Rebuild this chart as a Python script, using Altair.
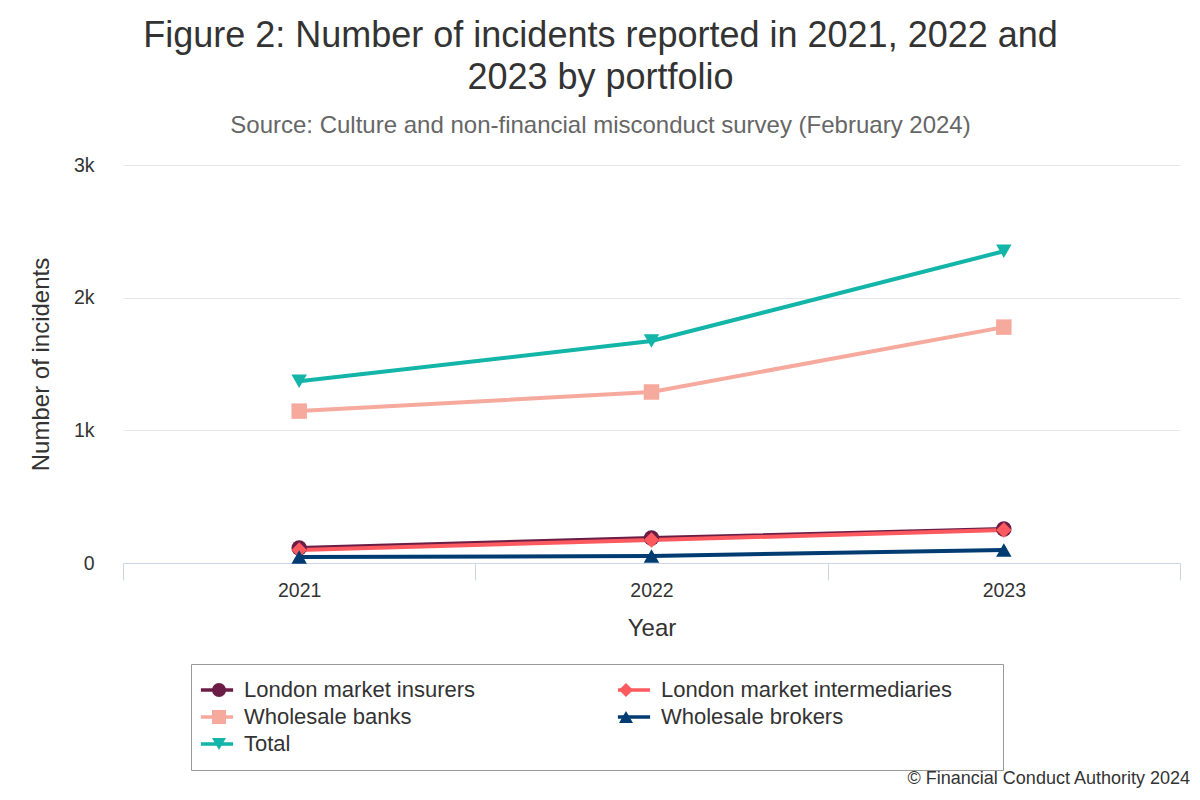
import pandas as pd
import altair as alt

# data
years = [2021, 2022, 2023]
series_names = [
    "London market insurers",
    "London market intermediaries",
    "Wholesale banks",
    "Wholesale brokers",
    "Total",
]
london_insurers = [113, 188, 256]
london_intermediaries = [98, 173, 249]
wholesale_banks = [1145, 1289, 1778]
wholesale_brokers = [45, 53, 98]
total = [1370, 1673, 2350]

colours = ["#6b1d46", "#fc5a5f", "#f6a99d", "#003c71", "#12b5a7"]
shapes = ["circle", "diamond", "square", "triangle-up", "triangle-down"]

x_tick_values = [2020.5, 2021, 2021.5, 2022, 2022.5, 2023, 2023.5]
y_tick_values = [0, 1000, 2000, 3000]

title_lines = ["Figure 2: Number of incidents reported in 2021, 2022 and", "2023 by portfolio"]
subtitle = "Source: Culture and non-financial misconduct survey (February 2024)"
credit_text = "© Financial Conduct Authority 2024"

FONT = "Liberation Sans"

rows = []
for name, values in zip(series_names, [london_insurers, london_intermediaries, wholesale_banks, wholesale_brokers, total]):
    for yr, v in zip(years, values):
        rows.append({"year": yr, "count": v, "series": name, "series_pt": name})
df = pd.DataFrame(rows)

x = alt.X(
    "year:Q",
    title="Year",
    scale=alt.Scale(domain=[2020.5, 2023.5], nice=False, zero=False),
    axis=alt.Axis(
        values=x_tick_values,
        labelExpr="floor(datum.value) == datum.value ? format(datum.value, 'd') : ''",
        labelOverlap=False,
        labelFlush=False,
        grid=False,
        domainColor="#ccd6eb",
        tickColor="#ccd6eb",
        tickSize=17,
        tickOpacity=alt.condition("floor(datum.value) != datum.value", alt.value(1), alt.value(0)),
        labelPadding=1,
        labelFontSize=19.5,
        labelColor="#333333",
        titleFontSize=24,
        titleFontWeight="normal",
        titleColor="#333333",
        titlePadding=17,
    ),
)
y = alt.Y(
    "count:Q",
    title="Number of incidents",
    scale=alt.Scale(domain=[0, 3000], nice=False),
    axis=alt.Axis(
        values=y_tick_values,
        labelExpr="datum.value == 0 ? '0' : format(datum.value / 1000, 'd') + 'k'",
        domain=False,
        ticks=False,
        gridColor="#e6e6e6",
        labelPadding=29,
        labelFontSize=19.5,
        labelColor="#333333",
        titleFontSize=24,
        titleFontWeight="normal",
        titleColor="#333333",
        titlePadding=20,
    ),
)

# line legend (draws the box, the strokes and the labels);
# a blank title on the right widens the box like the original
lines = alt.Chart(df).mark_line(strokeWidth=4).encode(
    x=x,
    y=y,
    color=alt.Color(
        "series:N",
        sort=series_names,
        scale=alt.Scale(range=colours),
        legend=alt.Legend(
            title="\u00a0",
            titleOrient="right",
            titlePadding=36,
            orient="none",
            direction="horizontal",
            legendX=68,
            legendY=499,
            columns=2,
            columnPadding=134,
            rowPadding=5,
            padding=15,
            strokeColor="#999999",
            symbolType="M-2.3,0H2.3",
            symbolSize=196,
            symbolStrokeWidth=3.5,
            labelFontSize=22,
            labelColor="#333333",
            labelOffset=16,
            labelLimit=500,
        ),
    ),
)

# marker legend laid over the line legend, without labels of its own
pt_legend = alt.Legend(
    title=None,
    orient="none",
    direction="horizontal",
    legendX=70,
    legendY=499,
    columns=2,
    columnPadding=385,
    rowPadding=5,
    padding=15,
    symbolSize=196,
    symbolStrokeWidth=0,
    symbolOpacity=1,
    labelFontSize=22,
    labelExpr="''",
    labelOffset=0,
)

points = alt.Chart(df).mark_point(filled=True, size=240, opacity=1, strokeWidth=0).encode(
    x=x,
    y=y,
    fill=alt.Fill("series_pt:N", scale=alt.Scale(domain=series_names, range=colours), legend=pt_legend),
    shape=alt.Shape("series_pt:N", scale=alt.Scale(domain=series_names, range=shapes), legend=pt_legend),
)

credit = alt.Chart(pd.DataFrame({"text": [credit_text]})).mark_text(
    align="right", baseline="alphabetic", fontSize=18, color="#333333"
).encode(text="text:N", x=alt.value(1067), y=alt.value(619))

chart = (
    alt.layer(lines, points, credit)
    .properties(
        width=1057,
        height=398,
        autosize=alt.AutoSizeParams(type="none"),
        padding={"left": 115, "top": 157, "right": 12, "bottom": 225},
        title=alt.TitleParams(
            text=title_lines,
            subtitle=subtitle,
            fontSize=36,
            fontWeight="normal",
            color="#333333",
            lineHeight=42,
            subtitleFontSize=24,
            subtitleColor="#666666",
            subtitlePadding=17,
            anchor="middle",
            frame="group",
            dx=-51,
            offset=16,
        ),
    )
    .configure(font=FONT)
    .configure_view(stroke=None)
)

chart.save("out.html", embed_options={"renderer": "svg", "actions": False})
